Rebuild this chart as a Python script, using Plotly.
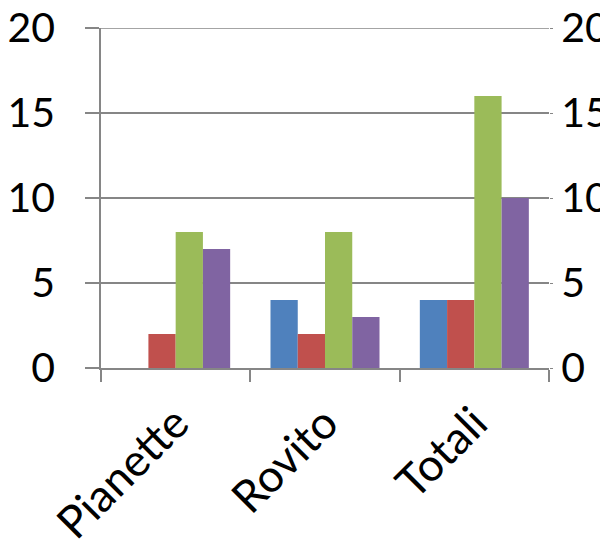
import plotly.graph_objects as go

categories = ["Pianette", "Rovito", "Totali"]
series_names = ["Serie 1", "Serie 2", "Serie 3", "Serie 4"]
series_values = [
    [0, 4, 4],
    [2, 2, 4],
    [8, 8, 16],
    [7, 3, 10],
]
colors = ["#4F81BD", "#C0504D", "#9BBB59", "#8064A2"]
y_ticks = [0, 5, 10, 15, 20]

FONT = "Lato"
GRAY = "#868686"

fig = go.Figure()
for name, vals, c in zip(series_names, series_values, colors):
    fig.add_trace(go.Bar(x=categories, y=vals, name=name,
                         marker=dict(color=c, line=dict(width=0))))
# invisible trace to anchor secondary axis
fig.add_trace(go.Scatter(x=categories, y=[0, 0, 0], yaxis="y2", mode="none",
                         showlegend=False, hoverinfo="skip"))

# top gridline (plotly omits the grid line at the range end)
fig.add_shape(type="line", xref="paper", yref="y", x0=0, x1=1,
              y0=y_ticks[-1], y1=y_ticks[-1], line=dict(color=GRAY, width=1.5),
              layer="below")

fig.update_layout(
    width=600, height=544,
    margin=dict(l=101, r=51, t=28, b=176),
    paper_bgcolor="white", plot_bgcolor="white",
    showlegend=False,
    barmode="group", bargap=0.27, bargroupgap=0,
    font=dict(family=FONT, size=41, color="black"),
    xaxis=dict(
        type="category", tickangle=-45, automargin=False,
        showline=True, linecolor=GRAY, linewidth=1.5,
        ticks="outside", ticklen=12, tickcolor=GRAY, tickwidth=1.5,
        tickson="boundaries", showgrid=False,
        ticklabelstandoff=9, ticklabeloverflow="allow",
        tickfont=dict(size=45, family=FONT),
    ),
    yaxis=dict(
        range=[0, 20], tickvals=y_ticks, ticktext=[str(v) for v in y_ticks],
        automargin=False,
        showline=True, linecolor=GRAY, linewidth=1.5,
        ticks="outside", ticklen=14, tickcolor=GRAY, tickwidth=1.5,
        showgrid=True, gridcolor=GRAY, gridwidth=1.5,
        zeroline=False, ticklabelstandoff=22, ticklabeloverflow="allow",
        tickfont=dict(size=41, family=FONT),
    ),
    yaxis2=dict(
        range=[0, 20], tickvals=y_ticks, ticktext=[str(v) for v in y_ticks],
        automargin=False,
        overlaying="y", side="right", showgrid=False, zeroline=False,
        showline=False, ticks="outside", ticklen=3, tickcolor=GRAY,
        ticklabelstandoff=0, ticklabeloverflow="allow",
        tickfont=dict(size=41, family=FONT),
    ),
)

fig.write_html(
    "out.html",
    config={"displayModeBar": False},
    post_script="document.body.style.margin='0';document.body.style.overflow='hidden';",
)
